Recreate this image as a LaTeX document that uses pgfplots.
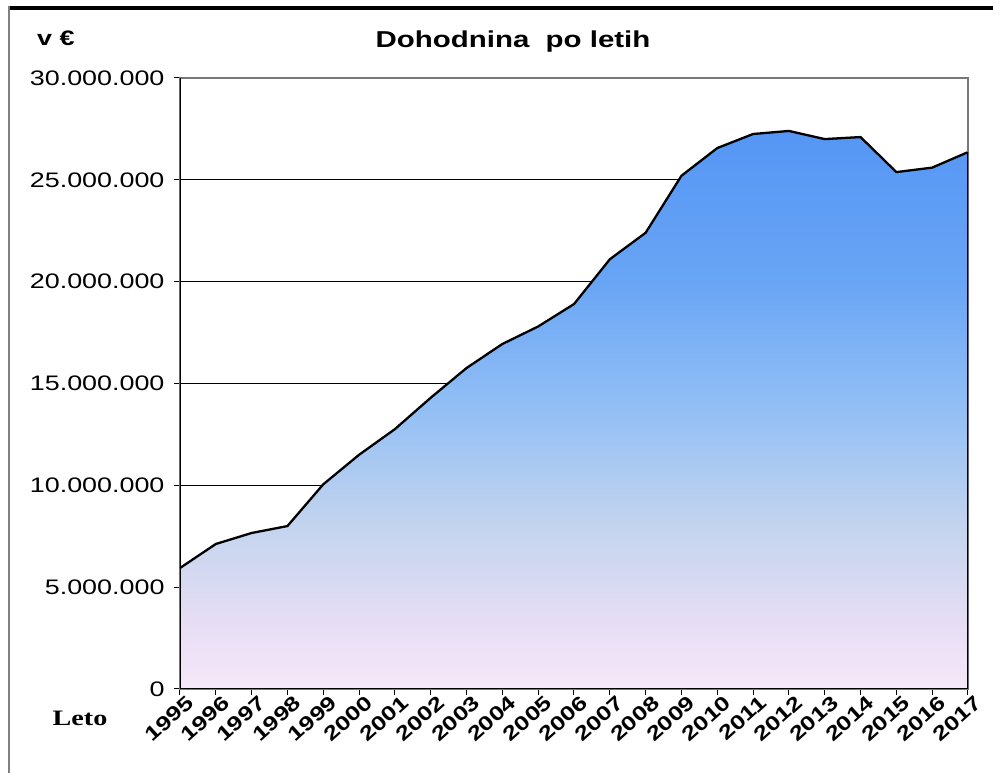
\documentclass[border=0pt]{standalone}
\usepackage{pgfplots}
\pgfplotsset{compat=1.18}
\usepackage{fontspec}
\setmainfont{Liberation Sans}[FakeStretch=1.28]
\newfontfamily\leto{Liberation Serif}[FakeStretch=1.28]
\definecolor{framegray}{RGB}{120,120,120}
\definecolor{sA}{RGB}{246,232,248}
\definecolor{sB}{RGB}{232,222,245}
\definecolor{sC}{RGB}{195,212,238}
\definecolor{sD}{RGB}{145,190,245}
\definecolor{sE}{RGB}{105,165,245}
\definecolor{sF}{RGB}{85,150,245}
\pgfdeclareverticalshading{dohshade}{100bp}{%
  color(0bp)=(sA);
  color(25bp)=(sA);
  color(30.5bp)=(sB);
  color(39.6bp)=(sC);
  color(50.5bp)=(sD);
  color(61.5bp)=(sE);
  color(75bp)=(sF);
  color(100bp)=(sF)}
\pgfplotstableread{
year value
1995 5940000
1996 7120000
1997 7660000
1998 8000000
1999 10050000
2000 11500000
2001 12760000
2002 14300000
2003 15760000
2004 16940000
2005 17800000
2006 18900000
2007 21100000
2008 22400000
2009 25200000
2010 26560000
2011 27250000
2012 27400000
2013 27000000
2014 27100000
2015 25380000
2016 25600000
2017 26360000
}\dohodnina
\begin{document}
\begin{tikzpicture}
\useasboundingbox (-180pt,-84pt) rectangle (813pt,689pt);
\begin{axis}[
  at={(0pt,0pt)}, anchor=south west,
  scale only axis, width=788pt, height=611pt,
  xmin=1995, xmax=2017, ymin=0, ymax=30000000,
  xtick={1995,...,2017},
  ytick={0,5000000,10000000,15000000,20000000,25000000,30000000},
  scaled y ticks=false,
  xtick pos=left, ytick pos=left,
  tick align=outside, major tick length=6pt,
  tick style={black, line width=1pt},
  ymajorgrids, grid style={black, line width=1pt},
  axis line style={framegray, line width=1.2pt},
  yticklabel style={/pgf/number format/.cd, fixed, 1000 sep={.}, assume math mode=true,
     /tikz/.cd, font=\fontsize{21}{21}\selectfont, xshift=-6pt},
  xticklabel style={/pgf/number format/.cd, 1000 sep={}, assume math mode=true,
     /tikz/.cd, font=\bfseries\fontsize{20}{20}\selectfont, rotate=42, anchor=north east, inner sep=1pt, xshift=6pt, yshift=-2pt},
]
\addplot[draw=none, shade, shading=dohshade]
  table[x=year, y=value] {\dohodnina} \closedcycle;
\addplot[black, line width=2.3pt, mark=none, line join=round] table[x=year, y=value] {\dohodnina};
\draw[framegray, line width=1.2pt] (rel axis cs:0,1) -- (rel axis cs:1,1) -- (rel axis cs:1,0);
\draw[black, line width=1.2pt] (axis cs:2017,0) -- (axis cs:2017,26360000);
\draw[black, line width=2pt] (rel axis cs:0,1) -- (rel axis cs:0,0) -- (rel axis cs:1,0);
\end{axis}
\node[font=\bfseries\fontsize{23}{23}\selectfont] at (333pt,647pt) {Dohodnina\ \ po letih};
\node[font=\bfseries\fontsize{21}{21}\selectfont, anchor=west, inner sep=0pt] at (-143pt,651pt) {v €};
\node[font=\leto\bfseries\fontsize{22}{22}\selectfont] at (-100pt,-29pt) {Leto};
\draw[black, line width=3.5pt] (-170pt,681pt) -- (813pt,681pt);
\draw[gray, line width=2pt] (-171pt,683pt) -- (-171pt,-84pt);
\end{tikzpicture}
\end{document}
